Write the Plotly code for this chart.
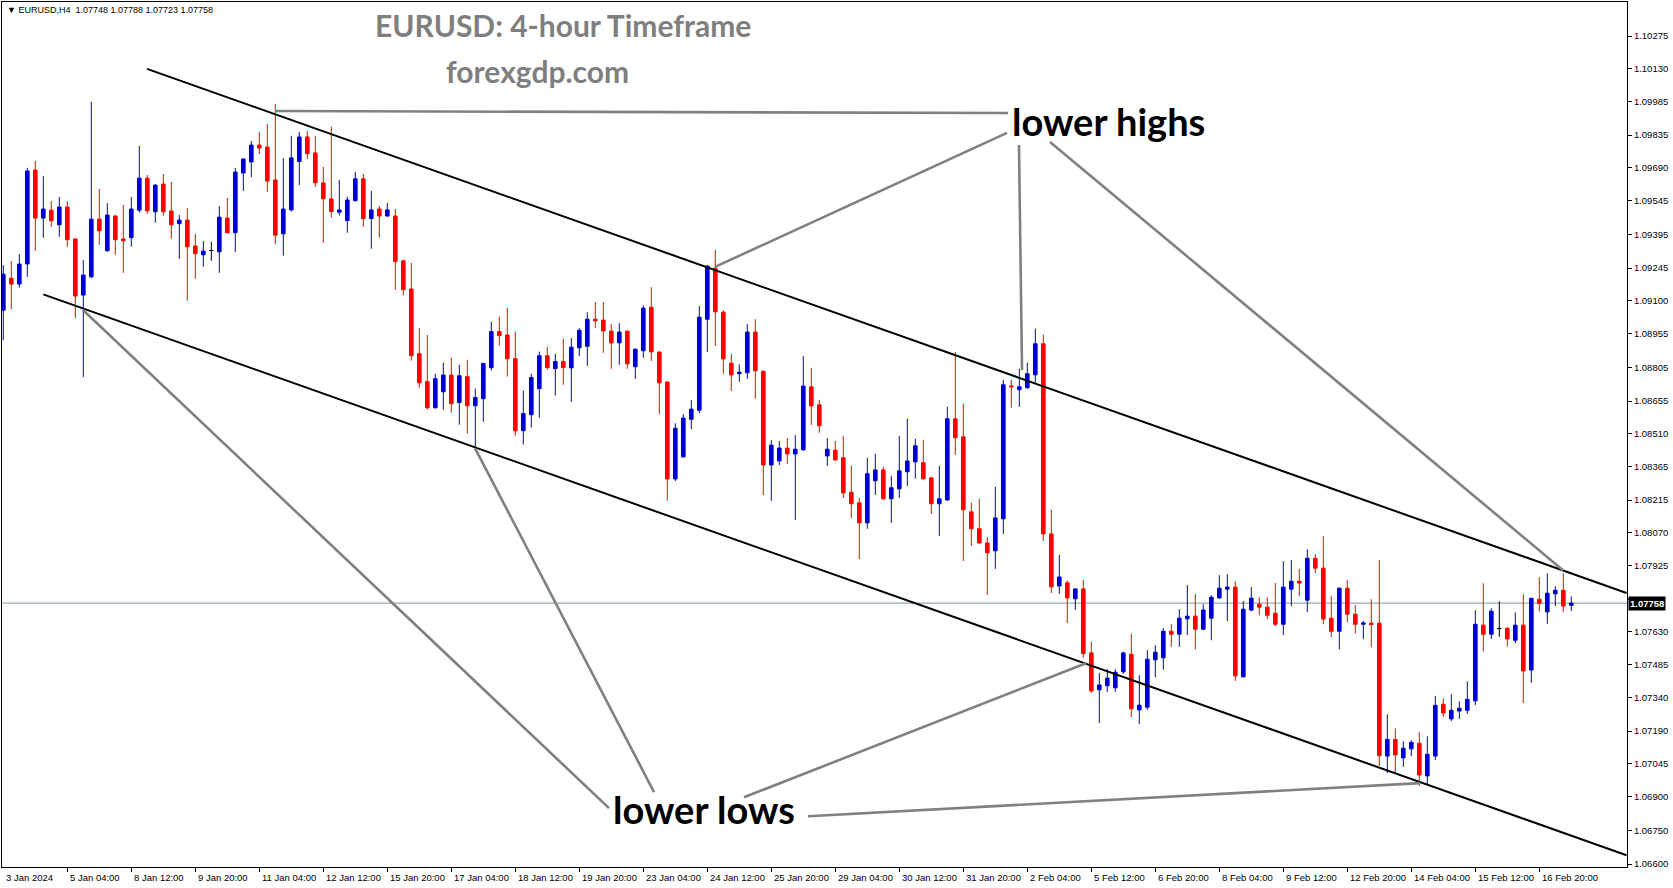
import plotly.graph_objects as go

# ---------------- DATA ----------------
opens = [1.09058,1.09200,1.09174,1.09263,1.09680,1.09467,1.09502,1.09437,1.09516,1.09374,
1.09125,1.09206,1.09462,1.09322,1.09476,1.09374,1.09380,1.09502,1.09644,1.09495,
1.09618,1.09498,1.09442,1.09458,1.09343,1.09304,1.09323,1.09317,1.09467,1.09402,
1.09667,1.09716,1.09791,1.09782,1.09636,1.09397,1.09503,1.09718,1.09827,1.09756,
1.09623,1.09552,1.09493,1.09456,1.09544,1.09641,1.09465,1.09507,1.09476,1.09476,
1.09277,1.09152,1.08865,1.08741,1.08625,1.08696,1.08770,1.08648,1.08763,1.08634,
1.08665,1.08803,1.08963,1.08948,1.08843,1.08523,1.08594,1.08710,1.08856,1.08799,
1.08830,1.08802,1.08891,1.08898,1.09018,1.09014,1.08965,1.08913,1.08965,1.08807,
1.08878,1.09071,1.08872,1.08739,1.08309,1.08407,1.08574,1.08614,1.09018,1.09245,
1.09049,1.08823,1.08776,1.08780,1.08961,1.08787,1.08371,1.08389,1.08446,1.08420,
1.08438,1.08718,1.08638,1.08411,1.08437,1.08403,1.08250,1.08203,1.08114,1.08301,
1.08349,1.08221,1.08265,1.08341,1.08385,1.08381,1.08314,1.08199,1.08216,1.08576,
1.08496,1.08163,1.08088,1.08025,1.07990,1.08132,1.08722,1.08705,1.08714,1.08771,
1.08909,1.08065,1.07834,1.07848,1.07777,1.07821,1.07537,1.07373,1.07391,1.07382,
1.07453,1.07531,1.07284,1.07296,1.07506,1.07515,1.07633,1.07620,1.07688,1.07700,
1.07642,1.07691,1.07781,1.07820,1.07829,1.07431,1.07727,1.07753,1.07740,1.07713,
1.07664,1.07820,1.07855,1.07771,1.07957,1.07913,1.07691,1.07633,1.07824,1.07709,
1.07664,1.07669,1.07669,1.07079,1.07153,1.07071,1.07111,1.07136,1.06991,1.07079,
1.07309,1.07244,1.07279,1.07282,1.07324,1.07660,1.07620,1.07645,1.07646,1.07593,
1.07660,1.07461,1.07775,1.07719,1.07799,1.07815,1.07748]

highs = [1.09258,1.09276,1.09307,1.09690,1.09720,1.09653,1.09542,1.09560,1.09542,1.09377,
1.09280,1.09983,1.09596,1.09533,1.09480,1.09525,1.09560,1.09787,1.09658,1.09618,
1.09662,1.09627,1.09480,1.09511,1.09396,1.09365,1.09362,1.09520,1.09556,1.09689,
1.09732,1.09809,1.09849,1.09884,1.09973,1.09733,1.09832,1.09849,1.09854,1.09832,
1.09694,1.09872,1.09636,1.09561,1.09672,1.09663,1.09587,1.09521,1.09534,1.09507,
1.09280,1.09268,1.08979,1.08948,1.08776,1.08825,1.08847,1.08816,1.08838,1.08710,
1.08825,1.09007,1.09029,1.09068,1.08963,1.08701,1.08776,1.08874,1.08896,1.08865,
1.08932,1.08934,1.08978,1.09049,1.09094,1.09094,1.08996,1.09000,1.08968,1.08888,
1.09080,1.09160,1.08876,1.08742,1.08556,1.08596,1.08659,1.09076,1.09258,1.09325,
1.09058,1.08863,1.08818,1.08996,1.09018,1.08790,1.08481,1.08477,1.08490,1.08503,
1.08854,1.08802,1.08660,1.08490,1.08477,1.08499,1.08367,1.08225,1.08403,1.08421,
1.08363,1.08323,1.08500,1.08576,1.08487,1.08483,1.08317,1.08367,1.08629,1.08873,
1.08643,1.08203,1.08221,1.08051,1.08274,1.08749,1.08749,1.08798,1.08825,1.08976,
1.08949,1.08172,1.07972,1.07857,1.07824,1.07861,1.07586,1.07448,1.07465,1.07465,
1.07542,1.07622,1.07438,1.07549,1.07571,1.07647,1.07664,1.07731,1.07838,1.07798,
1.07753,1.07793,1.07882,1.07886,1.07855,1.07767,1.07829,1.07784,1.07784,1.07847,
1.07944,1.07949,1.07909,1.07997,1.07975,1.08055,1.07789,1.07827,1.07860,1.07749,
1.07678,1.07775,1.07949,1.07264,1.07202,1.07145,1.07149,1.07185,1.07167,1.07346,
1.07335,1.07353,1.07322,1.07411,1.07726,1.07846,1.07735,1.07766,1.07651,1.07717,
1.07797,1.07782,1.07873,1.07890,1.07833,1.07890,1.07788]

lows = [1.08925,1.09063,1.09158,1.09206,1.09322,1.09380,1.09428,1.09384,1.09340,1.09024,
1.08762,1.09200,1.09348,1.09318,1.09304,1.09224,1.09340,1.09491,1.09486,1.09446,
1.09477,1.09375,1.09286,1.09100,1.09198,1.09251,1.09277,1.09224,1.09400,1.09317,
1.09587,1.09649,1.09751,1.09582,1.09351,1.09300,1.09496,1.09614,1.09729,1.09605,
1.09358,1.09469,1.09478,1.09402,1.09540,1.09429,1.09331,1.09380,1.09473,1.09149,
1.09123,1.08834,1.08714,1.08617,1.08622,1.08617,1.08603,1.08550,1.08510,1.08445,
1.08563,1.08790,1.08901,1.08763,1.08501,1.08462,1.08537,1.08581,1.08794,1.08679,
1.08727,1.08651,1.08855,1.08811,1.08980,1.08869,1.08798,1.08816,1.08798,1.08753,
1.08847,1.08833,1.08598,1.08212,1.08300,1.08404,1.08530,1.08601,1.08872,1.08900,
1.08776,1.08700,1.08740,1.08753,1.08665,1.08238,1.08212,1.08371,1.08376,1.08127,
1.08435,1.08549,1.08514,1.08367,1.08389,1.08225,1.08136,1.07954,1.08088,1.08238,
1.08216,1.08114,1.08225,1.08278,1.08310,1.08307,1.08154,1.08056,1.08212,1.08416,
1.07945,1.08012,1.08022,1.07794,1.07910,1.08065,1.08625,1.08629,1.08709,1.08736,
1.08034,1.07803,1.07799,1.07670,1.07728,1.07516,1.07359,1.07226,1.07364,1.07364,
1.07444,1.07252,1.07222,1.07284,1.07429,1.07462,1.07564,1.07564,1.07616,1.07553,
1.07638,1.07593,1.07778,1.07678,1.07413,1.07428,1.07722,1.07704,1.07687,1.07656,
1.07616,1.07744,1.07789,1.07718,1.07891,1.07664,1.07607,1.07553,1.07673,1.07624,
1.07598,1.07562,1.07035,1.07004,1.07004,1.07031,1.07079,1.06946,1.06955,1.07062,
1.07253,1.07235,1.07244,1.07266,1.07306,1.07544,1.07599,1.07608,1.07566,1.07580,
1.07315,1.07404,1.07722,1.07666,1.07745,1.07719,1.07723]

closes = [1.09218,1.09174,1.09263,1.09676,1.09467,1.09507,1.09455,1.09516,1.09371,1.09121,
1.09214,1.09462,1.09411,1.09480,1.09371,1.09366,1.09507,1.09644,1.09499,1.09613,
1.09495,1.09437,1.09458,1.09340,1.09309,1.09320,1.09323,1.09471,1.09402,1.09671,
1.09729,1.09791,1.09778,1.09631,1.09391,1.09507,1.09734,1.09827,1.09753,1.09624,
1.09553,1.09496,1.09503,1.09547,1.09641,1.09465,1.09503,1.09476,1.09503,1.09274,
1.09149,1.08856,1.08736,1.08625,1.08754,1.08770,1.08643,1.08767,1.08634,1.08670,
1.08821,1.08963,1.08945,1.08843,1.08523,1.08599,1.08759,1.08856,1.08803,1.08830,
1.08803,1.08894,1.08969,1.09018,1.09011,1.08966,1.08913,1.08961,1.08820,1.08885,
1.09067,1.08873,1.08736,1.08309,1.08534,1.08579,1.08619,1.09027,1.09254,1.09051,
1.08842,1.08771,1.08783,1.08961,1.08789,1.08371,1.08459,1.08446,1.08420,1.08441,
1.08721,1.08633,1.08545,1.08441,1.08394,1.08247,1.08199,1.08114,1.08332,1.08349,
1.08221,1.08270,1.08345,1.08389,1.08456,1.08310,1.08199,1.08221,1.08576,1.08492,
1.08172,1.08088,1.08025,1.07981,1.08136,1.08727,1.08718,1.08718,1.08776,1.08909,
1.08065,1.07830,1.07874,1.07781,1.07821,1.07534,1.07368,1.07395,1.07425,1.07451,
1.07537,1.07289,1.07305,1.07509,1.07540,1.07633,1.07620,1.07691,1.07700,1.07642,
1.07727,1.07784,1.07824,1.07829,1.07435,1.07731,1.07780,1.07740,1.07704,1.07664,
1.07829,1.07855,1.07847,1.07957,1.07913,1.07687,1.07633,1.07824,1.07709,1.07664,
1.07670,1.07663,1.07081,1.07153,1.07084,1.07114,1.07140,1.06995,1.07087,1.07304,
1.07270,1.07282,1.07291,1.07331,1.07664,1.07620,1.07722,1.07645,1.07599,1.07660,
1.07457,1.07779,1.07757,1.07802,1.07815,1.07745,1.07758]

tick_bars = [0, 8, 16, 24, 32, 40, 48, 56, 64, 72, 80, 88, 96, 104, 112, 120, 128,
             136, 144, 152, 160, 168, 176, 184, 192]
tick_text = ["3 Jan 2024", "5 Jan 04:00", "8 Jan 12:00", "9 Jan 20:00", "11 Jan 04:00",
             "12 Jan 12:00", "15 Jan 20:00", "17 Jan 04:00", "18 Jan 12:00", "19 Jan 20:00",
             "23 Jan 04:00", "24 Jan 12:00", "25 Jan 20:00", "29 Jan 04:00", "30 Jan 12:00",
             "31 Jan 20:00", "2 Feb 04:00", "5 Feb 12:00", "6 Feb 20:00", "8 Feb 04:00",
             "9 Feb 12:00", "12 Feb 20:00", "14 Feb 04:00", "15 Feb 12:00", "16 Feb 20:00"]

price_ticks = [1.10275, 1.10130, 1.09985, 1.09835, 1.09690, 1.09545, 1.09395, 1.09245,
               1.09100, 1.08955, 1.08805, 1.08655, 1.08510, 1.08365, 1.08215, 1.08070,
               1.07925, 1.07775, 1.07630, 1.07485, 1.07340, 1.07190, 1.07045, 1.06900,
               1.06750, 1.06600]

last_price = 1.07758

# channel lines: (bar0, price0, bar1, price1)
channel_lines = [
    (17.96, 1.10129, 202.9, 1.07803),
    (5.0, 1.09128, 202.9, 1.06639),
]
# pointer lines for "lower highs" / "lower lows"
pointer_lines = [
    (33.96, 1.09942, 125.6, 1.09933),
    (88.96, 1.09250, 125.46, 1.09845),
    (126.96, 1.09791, 127.34, 1.08792),
    (130.84, 1.09805, 194.96, 1.07904),
    (9.96, 1.09059, 75.71, 1.06848),
    (58.96, 1.08446, 81.34, 1.06919),
    (92.59, 1.06896, 135.34, 1.07491),
    (100.59, 1.06812, 177.09, 1.06959),
]

# ---------------- FIGURE ----------------
W, H = 1673, 888
ML, MR, MT, MB = 2, 46, 2, 21
PW, PH = W - ML - MR, H - MT - MB

def pxx(x):
    return (x - ML) / PW

def pxy(y):
    return 1 - (y - MT) / PH

bars = list(range(len(opens)))
BLUE = "#0000CD"
RED = "#FF0000"

normal = [i for i in bars if closes[i] != opens[i]]
doji = [i for i in bars if closes[i] == opens[i]]

fig = go.Figure()
fig.add_trace(go.Candlestick(
    x=[bars[i] for i in normal],
    open=[opens[i] for i in normal], high=[highs[i] for i in normal],
    low=[lows[i] for i in normal], close=[closes[i] for i in normal],
    increasing=dict(line=dict(color=BLUE, width=1), fillcolor=BLUE),
    decreasing=dict(line=dict(color=RED, width=1), fillcolor=RED),
    whiskerwidth=0, showlegend=False, hoverinfo="skip"))
fig.add_trace(go.Candlestick(
    x=[bars[i] for i in doji],
    open=[opens[i] for i in doji], high=[highs[i] for i in doji],
    low=[lows[i] for i in doji], close=[closes[i] for i in doji],
    increasing=dict(line=dict(color="black", width=1), fillcolor="black"),
    decreasing=dict(line=dict(color="black", width=1), fillcolor="black"),
    whiskerwidth=0, showlegend=False, hoverinfo="skip"))

shapes = []
shapes.append(dict(type="line", xref="paper", yref="y", x0=0, x1=1,
                   y0=last_price, y1=last_price, line=dict(color="#8090A0", width=1),
                   layer="below"))
for (a, p, b, q) in channel_lines:
    shapes.append(dict(type="line", xref="x", yref="y", x0=a, y0=p, x1=b, y1=q,
                       line=dict(color="black", width=2)))
for (a, p, b, q) in pointer_lines:
    shapes.append(dict(type="line", xref="x", yref="y", x0=a, y0=p, x1=b, y1=q,
                       line=dict(color="#808080", width=2.6)))

annotations = []
# time labels
for b, t in zip(tick_bars, tick_text):
    annotations.append(dict(x=b, xref="x", y=pxy(877), yref="paper", text=t,
                            showarrow=False, xanchor="left", yanchor="middle", xshift=1,
                            font=dict(family="Liberation Sans, Arial", size=9.5, color="black")))
# last price box
annotations.append(dict(x=1, xref="paper", y=last_price, yref="y",
                        text="<b>%.5f</b>" % last_price, showarrow=False,
                        xanchor="left", yanchor="middle", xshift=1,
                        bgcolor="black", borderpad=1,
                        font=dict(family="Liberation Sans, Arial", size=9.5, color="white")))
# header
annotations.append(dict(x=pxx(5), xref="paper", y=pxy(10), yref="paper",
                        text="▼ EURUSD,H4  1.07748 1.07788 1.07723 1.07758",
                        showarrow=False, xanchor="left", yanchor="middle",
                        font=dict(family="Liberation Sans, Arial", size=9, color="black")))
# titles
annotations.append(dict(x=pxx(563), xref="paper", y=pxy(25), yref="paper",
                        text="<b>EURUSD: 4-hour Timeframe</b>", showarrow=False,
                        xanchor="center", yanchor="middle",
                        font=dict(family="Lato", size=30, color="#7F7F7F")))
annotations.append(dict(x=pxx(537), xref="paper", y=pxy(71), yref="paper",
                        text="<b>forexgdp.com</b>", showarrow=False,
                        xanchor="center", yanchor="middle",
                        font=dict(family="Lato", size=30, color="#7F7F7F")))
annotations.append(dict(x=pxx(1010), xref="paper", y=pxy(121), yref="paper",
                        text="<b>lower highs</b>", showarrow=False,
                        xanchor="left", yanchor="middle",
                        font=dict(family="Lato", size=38, color="black")))
annotations.append(dict(x=pxx(611), xref="paper", y=pxy(809), yref="paper",
                        text="<b>lower lows</b>", showarrow=False,
                        xanchor="left", yanchor="middle",
                        font=dict(family="Lato", size=38, color="black")))

k = 0.03675 / 828.0
y_top = 1.10275 + (36 - MT) * k
y_bot = 1.10275 - (H - MB - 36) * k
x_left = (0 - 1.3) / 8.0
x_right = (PW - 1.3) / 8.0

# the label right under the last-price box is hidden by the box, as in MetaTrader
tick_labels = ["" if abs(v - last_price) < 0.0003 else "%.5f" % v for v in price_ticks]

fig.update_layout(
    width=W, height=H,
    margin=dict(l=ML, r=MR, t=MT, b=MB, pad=0),
    paper_bgcolor="white", plot_bgcolor="white",
    boxgap=0.35,
    shapes=shapes, annotations=annotations,
    xaxis=dict(type="linear", range=[x_left, x_right], rangeslider=dict(visible=False),
               showgrid=False, zeroline=False, showline=True, mirror=True,
               linecolor="black", linewidth=1, ticks="outside", ticklen=4,
               tickcolor="black", tickvals=tick_bars[1:], showticklabels=False),
    yaxis=dict(range=[y_bot, y_top], side="right", showgrid=False, zeroline=False,
               showline=True, mirror=True, linecolor="black", linewidth=1,
               ticks="outside", ticklen=4, tickcolor="black",
               tickvals=price_ticks, ticktext=tick_labels,
               tickfont=dict(family="Liberation Sans, Arial", size=9.5, color="black")),
    font=dict(family="Liberation Sans, Arial"),
)

fig.write_html("out.html")
